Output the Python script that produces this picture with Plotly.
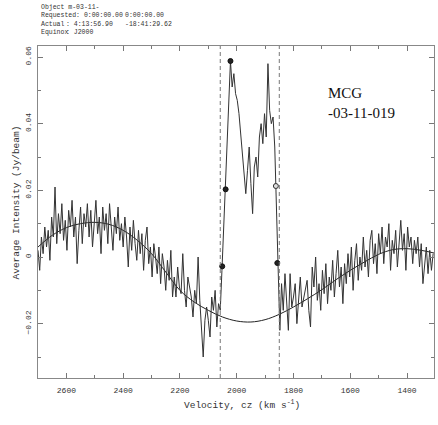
import plotly.graph_objects as go

# ---------------- data ----------------
V_START = 2700.0   # first channel velocity (km/s)
V_STEP = 6.0       # channel width (km/s), velocity decreases
intensity = [
    # 2700 .. 2646
    0.002, -0.004, 0.006, 0.001, 0.009, 0.003, 0.008, -0.001, 0.012, 0.006,
    # 2640 .. 2586
    0.021, 0.004, 0.013, 0.007, 0.016, 0.005, 0.011, 0.002, 0.014, 0.009,
    # 2580 .. 2526
    0.017, 0.006, 0.012, -0.002, 0.008, 0.015, 0.004, 0.013, 0.009, 0.016,
    # 2520 .. 2466
    0.006, 0.014, 0.003, 0.011, 0.017, 0.007, 0.012, 0.001, 0.015, 0.008,
    # 2460 .. 2406
    0.013, 0.004, 0.016, 0.009, 0.002, 0.012, 0.007, 0.015, 0.005, 0.010,
    # 2400 .. 2346
    0.003, 0.012, 0.006, -0.003, 0.009, 0.002, 0.011, 0.004, -0.001, 0.008,
    # 2340 .. 2286
    0.001, 0.007, -0.004, 0.005, 0.009, -0.002, 0.003, -0.006, 0.004, 0.000,
    # 2280 .. 2226
    -0.005, 0.003, -0.008, 0.001, -0.003, -0.010, -0.001, -0.007, 0.002, -0.012,
    # 2220 .. 2166
    -0.006, -0.012, -0.003, -0.009, -0.011, 0.001, -0.010, -0.015, -0.006, -0.009,
    # 2160 .. 2106
    -0.012, -0.018, -0.010, -0.014, 0.000, -0.013, -0.021, -0.030, -0.019, -0.015,
    # 2100 .. 2064
    -0.019, -0.024, -0.012, -0.016, -0.010, -0.021, -0.014,
    # 2058 .. 2022 (rising edge)
    -0.016, -0.004, 0.008, 0.020, 0.033, 0.046, 0.0588,
    # 2016 .. 1848 (profile)
    0.051, 0.055, 0.049, 0.047, 0.043, 0.037, 0.029, 0.024, 0.019, 0.026,
    0.033, 0.022, 0.013, 0.027, 0.030, 0.024, 0.036, 0.040, 0.034, 0.043,
    0.036, 0.058, 0.044, 0.040, 0.042, 0.033, 0.016, -0.008, -0.022,
    # 1842 .. 1788
    -0.008, -0.016, -0.005, -0.012, -0.022, -0.005, -0.015, -0.012, -0.008, -0.020,
    # 1782 .. 1728
    -0.013, -0.006, -0.015, -0.012, -0.010, -0.007, -0.016, -0.021, -0.003, -0.009,
    # 1722 .. 1668
    0.000, -0.013, -0.008, -0.016, -0.004, -0.011, -0.002, -0.014, -0.006, -0.010,
    # 1662 .. 1608
    -0.001, -0.012, -0.005, 0.002, -0.009, -0.003, -0.014, -0.002, -0.008, 0.001,
    # 1602 .. 1548
    -0.006, 0.003, -0.010, -0.001, 0.004, -0.007, 0.000, -0.004, 0.006, -0.003,
    # 1542 .. 1488
    0.002, -0.006, 0.005, 0.008, -0.002, 0.004, -0.005, 0.007, 0.001, 0.009,
    # 1482 .. 1428
    -0.002, 0.006, 0.003, 0.010, -0.004, 0.005, 0.001, 0.008, -0.003, 0.004,
    # 1422 .. 1368
    0.011, 0.002, 0.007, -0.004, 0.009, 0.003, 0.006, -0.002, 0.005, 0.001,
    # 1362 .. 1308
    0.006, -0.003, 0.004, -0.008, -0.001, 0.003, -0.005, 0.002, -0.004, 0.001,
]
velocity = [V_START - V_STEP * i for i in range(len(intensity))]

# fitted baseline
base_v = [2700, 2650, 2600, 2550, 2500, 2450, 2400, 2350, 2300, 2250, 2200, 2150,
          2100, 2050, 2000, 1950, 1900, 1850, 1800, 1750, 1700, 1650, 1600, 1550,
          1500, 1450, 1400, 1350, 1305]
base_y = [0.0030, 0.0065, 0.0088, 0.0100, 0.0104, 0.0098, 0.0080, 0.0050, 0.0010,
          -0.0045, -0.0100, -0.0135, -0.0160, -0.0180, -0.0192, -0.0195, -0.0188,
          -0.0172, -0.0150, -0.0125, -0.0098, -0.0068, -0.0040, -0.0015, 0.0008,
          0.0022, 0.0025, 0.0020, 0.0012]

# line-width markers (peak, 20 % and baseline crossings)
mark_v = [2022, 2039, 2051, 1857]
mark_y = [0.0588, 0.0203, -0.0028, -0.0018]
open_v = [1862]
open_y = [0.0213]

# integration window
window_v = [2058, 1850]

galaxy_label = "MCG<br>-03-11-019"

# ---------------- figure ----------------
L, R, T, B = 38, 4, 46, 47
W, H = 438, 425
PW, PH = W - L - R, H - T - B


def px_x(x):
    return (x - L) / PW


def px_y(y):
    return (H - B - y) / PH


fig = go.Figure()
fig.add_trace(go.Scatter(x=base_v, y=base_y, mode="lines", line_shape="spline",
                         line=dict(color="#222", width=1), hoverinfo="skip"))
fig.add_trace(go.Scatter(x=velocity, y=intensity, mode="lines",
                         line=dict(color="#333", width=1)))
fig.add_trace(go.Scatter(x=mark_v, y=mark_y, mode="markers",
                         marker=dict(size=5, color="#222", line=dict(color="#111", width=1))))
fig.add_trace(go.Scatter(x=open_v, y=open_y, mode="markers",
                         marker=dict(size=5, color="#ddd", line=dict(color="#333", width=1))))

for v in window_v:
    fig.add_shape(type="line", x0=v, x1=v, y0=0, y1=1, xref="x", yref="paper",
                  line=dict(color="#777", width=1, dash="4px,3px"))

mono = "Liberation Mono, Courier New, monospace"
hdr_font = dict(family=mono, size=6.5, color="#333")
hdr = [
    ("Object m-03-11-", 39, 7.3),
    ("Requested: 0:00:00.00", 39, 15.3), ("0:00:00.00", 123, 15.3),
    ("Actual", 39, 24), (": 4:13:56.90", 64, 24), ("-18:41:29.62", 122.5, 24),
    ("Equinox", 39, 32.3), (": J2000", 64, 32.3),
]
for txt, x, y in hdr:
    fig.add_annotation(text=txt, x=px_x(x), y=px_y(y), xref="paper", yref="paper",
                       xanchor="left", yanchor="middle", showarrow=False, font=hdr_font)

fig.add_annotation(text=galaxy_label, x=px_x(326), y=px_y(103), xref="paper", yref="paper",
                   xanchor="left", yanchor="middle", align="left", showarrow=False,
                   font=dict(family="Liberation Serif, Times New Roman, serif", size=15,
                             color="#111"))

title_font = dict(family=mono, size=9.5, color="#333")
fig.add_annotation(text="Velocity, cz (km s<sup>-1</sup>)", x=px_x(242), y=px_y(404),
                   xref="paper", yref="paper", xanchor="center", yanchor="middle",
                   showarrow=False, font=title_font)
fig.add_annotation(text="Average Intensity (Jy/beam)", x=px_x(15.5), y=px_y(203),
                   xref="paper", yref="paper", xanchor="center", yanchor="middle",
                   textangle=-90, showarrow=False, font=title_font)

axis_common = dict(showline=True, linecolor="#888", linewidth=1, mirror="allticks",
                   ticks="inside", ticklen=5, tickcolor="#777", tickwidth=1,
                   showgrid=False, zeroline=False,
                   tickfont=dict(family=mono, size=8, color="#333"))

fig.update_xaxes(range=[2700, 1305], autorange=False, tick0=0, dtick=200,
                 minor=dict(dtick=100, ticks="inside", ticklen=3, tickcolor="#777"),
                 ticklabelstandoff=4, **axis_common)
fig.update_yaxes(range=[-0.0363, 0.0633], autorange=False, tick0=0, dtick=0.02,
                 minor=dict(dtick=0.01, ticks="inside", ticklen=3, tickcolor="#777"),
                 tickangle=-90, ticklabelstandoff=3, **axis_common)

fig.update_layout(width=W, height=H, margin=dict(l=L, r=R, t=T, b=B, autoexpand=False),
                  paper_bgcolor="white", plot_bgcolor="white", showlegend=False)

fig.write_html("out.html")
